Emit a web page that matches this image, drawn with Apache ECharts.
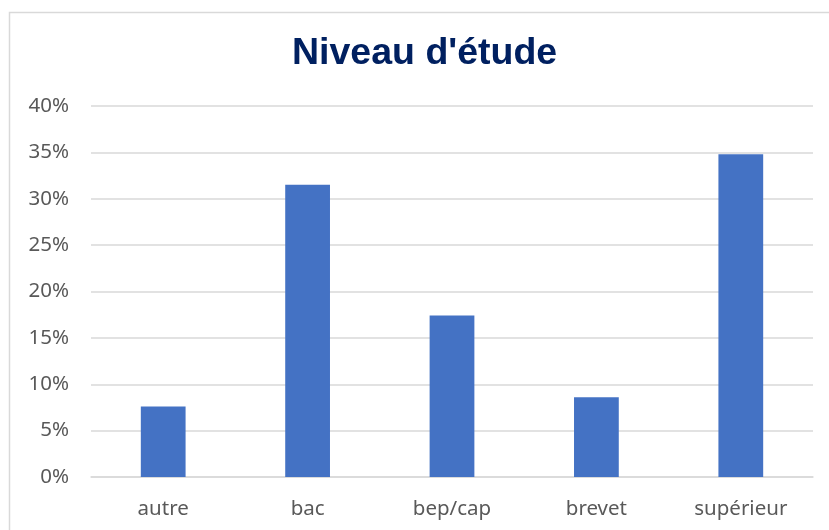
<!DOCTYPE html>
<html>
<head>
<meta charset="utf-8">
<script src="https://cdn.jsdelivr.net/npm/echarts@6/dist/echarts.min.js"></script>
<style>
  html, body { margin: 0; padding: 0; background: #fff; }
  #chart { width: 829px; height: 530px; }
</style>
</head>
<body>
<div id="chart"></div>
<script>
// niveaux d'étude et parts (en %)
const categories = ['autre', 'bac', 'bep/cap', 'brevet', 'supérieur']
const parts = [7.6, 31.5, 17.4, 8.6, 34.8]

let myChart = echarts.init(document.getElementById('chart'))
myChart.setOption({
  animation: false,
  color: ['#4472C4'],
  title: {
    text: "Niveau d'étude",
    left: 292,
    top: 35,
    padding: 0,
    textStyle: {
      fontFamily: 'Liberation Sans, Arial, sans-serif',
      fontWeight: 'bold',
      fontSize: 37.5,
      color: '#002060'
    }
  },
  // cadre du graphique
  graphic: [{
    type: 'rect',
    left: 7,
    top: 10,
    shape: { width: 900, height: 600 },
    style: { fill: 'none', stroke: '#d9d9d9', lineWidth: 1.5 },
    silent: true
  }],
  grid: {
    top: 106,
    left: 91,
    right: 16,
    bottom: 53,
    containLabel: false
  },
  xAxis: {
    type: 'category',
    data: categories,
    axisLine: { lineStyle: { color: '#d9d9d9', width: 1.5 } },
    axisTick: { show: false },
    axisLabel: {
      color: '#595959',
      fontSize: 20.5,
      fontFamily: 'Noto Sans, sans-serif',
      margin: 22
    }
  },
  yAxis: {
    type: 'value',
    min: 0,
    max: 40,
    interval: 5,
    axisLine: { show: false },
    axisTick: { show: false },
    axisLabel: {
      color: '#595959',
      fontSize: 20.5,
      fontFamily: 'Noto Sans, sans-serif',
      margin: 22,
      formatter: '{value}%'
    },
    splitLine: { lineStyle: { color: '#d9d9d9', width: 1.5 } }
  },
  series: [{
    type: 'bar',
    data: parts,
    barWidth: '31%'
  }]
})
</script>
</body>
</html>
